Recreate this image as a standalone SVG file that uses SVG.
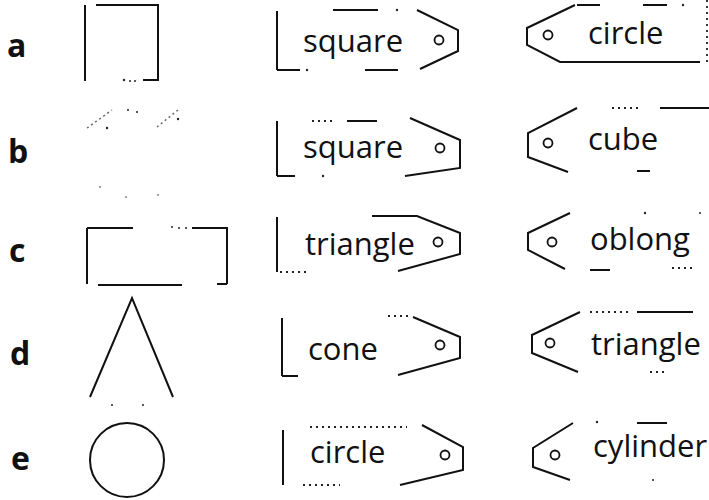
<svg xmlns="http://www.w3.org/2000/svg" width="709" height="500" viewBox="0 0 709 500">
<style>
.bg{fill:#fff}
.ln{fill:none;stroke:#111;stroke-width:2;stroke-linecap:butt;stroke-linejoin:miter}
.dt{fill:none;stroke:#222;stroke-width:1.8;stroke-dasharray:2 4}
.fa{fill:none;stroke:#666;stroke-width:1.5;stroke-dasharray:2 3}
.hole{fill:none;stroke:#111;stroke-width:1.8}
.dot{fill:#222}
.lt{font-family:"Open Sans","Liberation Sans",sans-serif;font-weight:bold;font-size:32px;fill:#111}
.tx{font-family:"Open Sans","Liberation Sans",sans-serif;font-size:31px;fill:#111}
</style>
<rect class="bg" x="0" y="0" width="709" height="500"/>

<g id="letters">
<text class="lt" x="7" y="57">a</text>
<text class="lt" x="8" y="163">b</text>
<text class="lt" x="9" y="262">c</text>
<text class="lt" x="10" y="365">d</text>
<text class="lt" x="11" y="470">e</text>
</g>

<g id="shape-a">
<path class="ln" d="M85 5 V81 M96 5 H158 V81 M143 80 H158"/>
<circle class="dot" cx="124" cy="80" r="1.2"/><circle class="dot" cx="130" cy="81" r="1"/><circle class="dot" cx="135" cy="81" r="1"/>
</g>

<g id="shape-b">
<path class="fa" d="M87 128 L112 110 M157 127 L178 110"/>
<circle class="dot" cx="107" cy="128" r="1.2"/><circle class="dot" cx="128" cy="110" r="1"/><circle class="dot" cx="137" cy="112" r="1"/><circle class="dot" cx="178" cy="119" r="1.2"/>
<circle class="dot" cx="100" cy="187" r="0.8"/><circle class="dot" cx="126" cy="197" r="0.8"/><circle class="dot" cx="158" cy="195" r="0.8"/>
</g>

<g id="shape-c">
<path class="ln" d="M87 228 V284 M87 228 H133 M192 228 H227 V284 M98 285 H182 M217 284 H227"/>
<circle class="dot" cx="172" cy="227" r="1"/><circle class="dot" cx="179" cy="228" r="1"/><circle class="dot" cx="186" cy="228" r="1"/>
</g>

<g id="shape-d">
<path class="ln" d="M90 397 L132 298 L173 397"/>
<circle class="dot" cx="112" cy="405" r="1"/><circle class="dot" cx="143" cy="405" r="1"/>
</g>

<g id="shape-e">
<circle class="ln" cx="127" cy="460" r="37"/>
</g>

<g id="tag-a-mid">
<path class="ln" d="M277 11 V70 M333 10 H378 M417 10 L458 30 V51 L420 69 M277 70 H300 M365 70 H398"/>
<circle class="dot" cx="397" cy="10" r="1.2"/><circle class="dot" cx="307" cy="70" r="1.2"/>
<circle class="hole" cx="439" cy="40" r="4.5"/>
<text class="tx" x="303" y="52">square</text>
</g>

<g id="tag-b-mid">
<path class="ln" d="M277 121 V176 M347 121 H377 M410 118 L460 140 V168 L405 176 M277 176 H295"/>
<path class="dt" d="M312 121 H336"/>
<circle class="dot" cx="323" cy="176" r="1.2"/>
<circle class="hole" cx="440" cy="148" r="4.5"/>
<text class="tx" x="303" y="158">square</text>
</g>

<g id="tag-c-mid">
<path class="ln" d="M277 217 V272 M372 216 H417 L460 233 V254 L398 271"/>
<path class="dt" d="M280 272 H308"/>
<circle class="hole" cx="438" cy="242" r="4.5"/>
<text class="tx" x="305" y="255">triangle</text>
</g>

<g id="tag-d-mid">
<path class="ln" d="M282 318 V376 M413 317 L460 337 V358 L398 375 M282 376 H298"/>
<path class="dt" d="M388 316 H410"/>
<circle class="hole" cx="440" cy="345" r="4.5"/>
<text class="tx" x="308" y="360">cone</text>
</g>

<g id="tag-e-mid">
<path class="ln" d="M283 430 V485 M422 425 L463 447 V470 L400 485"/>
<path class="dt" d="M310 427 H407 M303 485 H340"/>
<circle class="hole" cx="445" cy="455" r="4.5"/>
<text class="tx" x="310" y="463">circle</text>
</g>

<g id="tag-a-right">
<path class="ln" d="M575 5 L527 28 V45 L560 62 H700 M577 5 H600 M643 5 H667"/>
<path class="dt" d="M707 0 V62"/>
<circle class="dot" cx="683" cy="5" r="1.2"/>
<circle class="hole" cx="548" cy="35" r="4.5"/>
<text class="tx" x="588" y="44">circle</text>
</g>

<g id="tag-b-right">
<path class="ln" d="M577 108 L528 133 V157 L568 172 M660 108 H709 M637 171 H650"/>
<path class="dt" d="M612 108 H638"/>
<circle class="hole" cx="548" cy="143" r="4.5"/>
<text class="tx" x="588" y="150">cube</text>
</g>

<g id="tag-c-right">
<path class="ln" d="M570 213 L528 233 V250 L565 269 M590 270 H610"/>
<path class="dt" d="M672 268 H692"/>
<circle class="dot" cx="645" cy="213" r="1.2"/><circle class="dot" cx="700" cy="213" r="1"/>
<circle class="hole" cx="552" cy="242" r="4.5"/>
<text class="tx" x="590" y="250">oblong</text>
</g>

<g id="tag-d-right">
<path class="ln" d="M580 312 L532 335 V353 L578 372 M637 312 H693"/>
<path class="dt" d="M590 312 H630 M650 372 H668"/>
<circle class="hole" cx="550" cy="343" r="4.5"/>
<text class="tx" x="591" y="355">triangle</text>
</g>

<g id="tag-e-right">
<path class="ln" d="M573 423 L533 448 V467 L570 480 M637 423 H667"/>
<circle class="dot" cx="597" cy="422" r="1.2"/><circle class="dot" cx="653" cy="480" r="1"/>
<circle class="hole" cx="555" cy="455" r="4.5"/>
<text class="tx" x="593" y="457">cylinder</text>
</g>

<g id="connectors"></g>
</svg>
